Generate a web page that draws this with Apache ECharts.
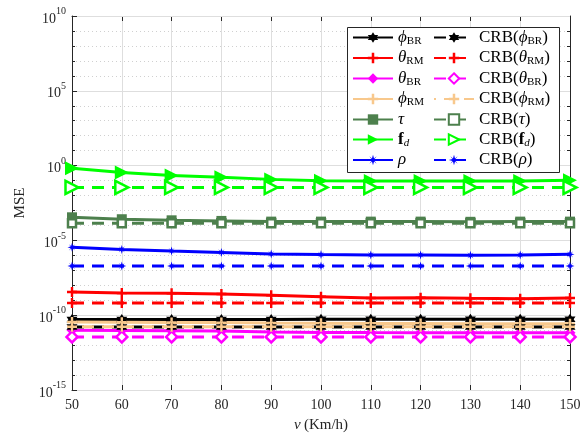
<!DOCTYPE html>
<html>
<head>
<meta charset="utf-8">
<script src="https://cdn.jsdelivr.net/npm/echarts@6/dist/echarts.min.js"></script>
<style>html,body{margin:0;padding:0;background:#fff}#c{width:581px;height:433px}</style>
</head>
<body>
<div id="c"></div>
<script>
// ---- data ----
var speeds = [50, 60, 70, 80, 90, 100, 110, 120, 130, 140, 150];
var phiBR    = [5.1e-11, 5.1e-11, 5.2e-11, 5.2e-11, 5.2e-11, 5.3e-11, 5.3e-11, 5.3e-11, 5.4e-11, 5.4e-11, 5.4e-11];
var thetaRM  = [3.55e-9, 3.0e-9, 2.9e-9, 2.63e-9, 2.14e-9, 1.74e-9, 1.41e-9, 1.48e-9, 1.35e-9, 1.26e-9, 1.41e-9];
var thetaBR  = [9.8e-12, 9.6e-12, 9.3e-12, 8.9e-12, 7.6e-12, 7.1e-12, 6.9e-12, 6.8e-12, 6.8e-12, 6.8e-12, 6.8e-12];
var phiRM    = [3.5e-11, 3.4e-11, 3.3e-11, 3.2e-11, 3.0e-11, 2.9e-11, 2.8e-11, 2.8e-11, 2.7e-11, 2.7e-11, 2.7e-11];
var tau      = [3.5e-4, 2.6e-4, 2.2e-4, 2.0e-4, 1.8e-4, 1.8e-4, 1.8e-4, 1.8e-4, 1.75e-4, 1.8e-4, 1.8e-4];
var fd       = [0.66, 0.34, 0.22, 0.166, 0.12, 0.098, 0.093, 0.093, 0.093, 0.093, 0.105];
var rho      = [3.47e-6, 2.5e-6, 1.95e-6, 1.58e-6, 1.23e-6, 1.12e-6, 1.07e-6, 1.07e-6, 1.0e-6, 1.07e-6, 1.17e-6];
var crbPhiBR   = [1.6e-11, 1.6e-11, 1.6e-11, 1.6e-11, 1.6e-11, 1.6e-11, 1.6e-11, 1.6e-11, 1.6e-11, 1.6e-11, 1.6e-11];
var crbThetaRM = [6.6e-10, 6.6e-10, 6.6e-10, 6.6e-10, 6.6e-10, 6.6e-10, 6.6e-10, 6.6e-10, 6.6e-10, 6.6e-10, 6.6e-10];
var crbThetaBR = [3.5e-12, 3.5e-12, 3.5e-12, 3.5e-12, 3.5e-12, 3.5e-12, 3.5e-12, 3.5e-12, 3.5e-12, 3.5e-12, 3.5e-12];
var crbPhiRM   = [1.7e-11, 1.7e-11, 1.7e-11, 1.7e-11, 1.7e-11, 1.7e-11, 1.7e-11, 1.7e-11, 1.7e-11, 1.7e-11, 1.7e-11];
var crbTau     = [1.38e-4, 1.38e-4, 1.38e-4, 1.38e-4, 1.38e-4, 1.38e-4, 1.38e-4, 1.38e-4, 1.38e-4, 1.38e-4, 1.38e-4];
var crbFd      = [0.035, 0.035, 0.035, 0.035, 0.035, 0.035, 0.035, 0.035, 0.035, 0.035, 0.035];
var crbRho     = [1.95e-7, 1.95e-7, 1.95e-7, 1.95e-7, 1.95e-7, 1.95e-7, 1.95e-7, 1.95e-7, 1.95e-7, 1.95e-7, 1.95e-7];
var xTicks = [50, 60, 70, 80, 90, 100, 110, 120, 130, 140, 150];
var yTickExps = [-15, -10, -5, 0, 5, 10];

// ---- styling ----
var FONT = "'Liberation Serif', 'DejaVu Serif', serif";
var STAR = 'path://M0,-10 L2.89,-5 L8.66,-5 L5.77,0 L8.66,5 L2.89,5 L0,10 L-2.89,5 L-8.66,5 L-5.77,0 L-8.66,-5 L-2.89,-5 Z';
var PLUS = 'path://M-1.2,-5 L1.2,-5 L1.2,-1.2 L5,-1.2 L5,1.2 L1.2,1.2 L1.2,5 L-1.2,5 L-1.2,1.2 L-5,1.2 L-5,-1.2 L-1.2,-1.2 Z';
var AST = 'path://M0,-5 L1,-1.5 L3.5,-3.5 L1.5,-1 L5,0 L1.5,1 L3.5,3.5 L1,1.5 L0,5 L-1,1.5 L-3.5,3.5 L-1.5,1 L-5,0 L-1.5,-1 L-3.5,-3.5 L-1,-1.5 Z';

function pairs(arr) { return speeds.map(function (v, i) { return [v, arr[i]]; }); }

var defs = [
  {name: 'phiBR', data: phiBR, color: '#000000', symbol: STAR, size: 11, dashed: false, open: false, label: '{m|ϕ}{s|BR}'},
  {name: 'thetaRM', data: thetaRM, color: '#ff0000', symbol: PLUS, size: 10, dashed: false, open: false, label: '{m|θ}{s|RM}'},
  {name: 'thetaBR', data: thetaBR, color: '#ff00ff', symbol: 'diamond', size: 11, dashed: false, open: false, label: '{m|θ}{s|BR}'},
  {name: 'phiRM', data: phiRM, color: '#f8c88c', symbol: PLUS, size: 10, dashed: false, open: false, label: '{m|ϕ}{s|RM}'},
  {name: 'tau', data: tau, color: '#4d804d', symbol: 'rect', size: 10, dashed: false, open: false, label: '{m|τ}'},
  {name: 'fd', data: fd, color: '#00ff00', symbol: 'triangle', size: 14, dashed: false, open: false, label: '{b|f}{si|d}'},
  {name: 'rho', data: rho, color: '#0000ff', symbol: AST, size: 9, dashed: false, open: false, label: '{m|ρ}'},
  {name: 'CRB_phiBR', data: crbPhiBR, color: '#000000', symbol: STAR, size: 11, dashed: true, open: false, label: '{r|CRB(}{m|ϕ}{s|BR}{r|)}'},
  {name: 'CRB_thetaRM', data: crbThetaRM, color: '#ff0000', symbol: PLUS, size: 10, dashed: true, open: false, label: '{r|CRB(}{m|θ}{s|RM}{r|)}'},
  {name: 'CRB_thetaBR', data: crbThetaBR, color: '#ff00ff', symbol: 'diamond', size: 11, dashed: true, open: true, label: '{r|CRB(}{m|θ}{s|BR}{r|)}'},
  {name: 'CRB_phiRM', data: crbPhiRM, color: '#f8c88c', symbol: PLUS, size: 10, dashed: true, open: false, offset: 10, label: '{r|CRB(}{m|ϕ}{s|RM}{r|)}'},
  {name: 'CRB_tau', data: crbTau, color: '#4d804d', symbol: 'rect', size: 8, dashed: true, open: true, label: '{r|CRB(}{m|τ}{r|)}'},
  {name: 'CRB_fd', data: crbFd, color: '#00ff00', symbol: 'triangle', size: 13, dashed: true, open: true, label: '{r|CRB(}{b|f}{si|d}{r|)}'},
  {name: 'CRB_rho', data: crbRho, color: '#0000ff', symbol: AST, size: 9, dashed: true, open: false, label: '{r|CRB(}{m|ρ}{r|)}'}
];
var labelMap = {};
defs.forEach(function (d) { labelMap[d.name] = d.label; });

var series = defs.map(function (d) {
  return {
    name: d.name,
    type: 'line',
    data: pairs(d.data),
    symbol: d.symbol,
    symbolSize: d.size,
    symbolRotate: d.symbol === 'triangle' ? -90 : 0,
    showAllSymbol: true,
    animation: false,
    lineStyle: {color: d.color, width: 3, type: d.dashed ? [12, 8] : 'solid', dashOffset: d.offset || 0},
    itemStyle: d.open ? {color: '#ffffff', borderColor: d.color, borderWidth: 2.5, opacity: 1}
                      : {color: d.color, borderColor: d.color, borderWidth: 0, opacity: 1},
    emphasis: {disabled: true},
    z: 2
  };
});

var richLegend = {
  r: {fontFamily: FONT, fontSize: 17, color: '#000'},
  m: {fontFamily: FONT, fontSize: 17, fontStyle: 'italic', color: '#000'},
  b: {fontFamily: FONT, fontSize: 17, fontWeight: 'bold', color: '#000'},
  s: {fontFamily: FONT, fontSize: 11, color: '#000', padding: [7, 0, 0, 0]},
  si: {fontFamily: FONT, fontSize: 11, fontStyle: 'italic', color: '#000', padding: [7, 0, 0, 0]}
};

function legendCfg(names, left) {
  return {
    orient: 'vertical',
    left: left,
    top: 29,
    itemWidth: 40,
    itemHeight: 13,
    itemGap: 3,
    padding: 0,
    selectedMode: false,
    data: names,
    formatter: function (n) { return labelMap[n]; },
    textStyle: {rich: richLegend, height: 16, lineHeight: 16},
    z: 5
  };
}

var BOX = [[347.5, 27.5], [559.5, 27.5], [559.5, 172.5], [347.5, 172.5]];

var chart = echarts.init(document.getElementById('c'), null, {renderer: 'canvas'});
chart.setOption({
  animation: false,
  backgroundColor: '#ffffff',
  grid: {left: 72, right: 11, top: 16, bottom: 43, containLabel: false, outerBoundsMode: 'none'},
  graphic: [{
    type: 'polygon', z: 4,
    shape: {points: BOX},
    style: {fill: '#ffffff', stroke: '#262626', lineWidth: 1}
  }],
  legend: [
    legendCfg(defs.slice(0, 7).map(function (d) { return d.name; }), 352),
    legendCfg(defs.slice(7).map(function (d) { return d.name; }), 433)
  ],
  xAxis: [{
    type: 'value', min: 50, max: 150, interval: 10,
    name: '{i|v} {r|(Km/h)}', nameLocation: 'middle', nameGap: 28,
    nameTextStyle: {rich: {i: {fontFamily: FONT, fontSize: 15, fontStyle: 'italic', color: '#262626'}, r: {fontFamily: FONT, fontSize: 15, color: '#262626'}}},
    axisLine: {show: true, lineStyle: {color: '#262626', width: 1}},
    axisTick: {show: true, inside: true, length: 5, lineStyle: {color: '#262626'}},
    axisLabel: {fontFamily: FONT, fontSize: 14, color: '#262626', margin: 8},
    splitLine: {show: true, lineStyle: {color: '#dedede', width: 1}}
  }, {
    type: 'value', min: 50, max: 150, interval: 10, position: 'top',
    axisLine: {show: true, lineStyle: {color: '#262626', width: 1}},
    axisTick: {show: true, inside: true, length: 5, lineStyle: {color: '#262626'}},
    axisLabel: {show: false}, splitLine: {show: false}
  }],
  yAxis: [{
    type: 'log', logBase: 10, min: 1e-15, max: 1e10, interval: 5,
    name: 'MSE', nameLocation: 'middle', nameGap: 43,
    nameTextStyle: {fontFamily: FONT, fontSize: 15, color: '#262626'},
    axisLine: {show: true, lineStyle: {color: '#262626', width: 1}},
    axisTick: {show: true, inside: true, length: 5, lineStyle: {color: '#262626'}},
    axisLabel: {
      margin: 6,
      formatter: function (v) { var e = Math.round(Math.log10(v)); return '{b|10}{e|' + e + '}'; },
      rich: {
        b: {fontFamily: FONT, fontSize: 14, color: '#262626', padding: [6, 0, 0, 0]},
        e: {fontFamily: FONT, fontSize: 10, color: '#262626', padding: [0, 0, 9, 0]}
      }
    },
    splitLine: {show: true, lineStyle: {color: '#dedede', width: 1}},
    z: 1
  }, {
    type: 'log', logBase: 10, min: 1e-15, max: 1e10, interval: 1, splitNumber: 25, position: 'left',
    axisLine: {show: false},
    axisTick: {show: true, inside: true, length: 3, lineStyle: {color: '#262626'}},
    axisLabel: {show: false},
    splitLine: {show: true, lineStyle: {color: '#d0d0d0', width: 1, type: [1, 3]}},
    z: 0
  }, {
    type: 'log', logBase: 10, min: 1e-15, max: 1e10, interval: 1, splitNumber: 25, position: 'right',
    axisLine: {show: true, lineStyle: {color: '#262626', width: 1}},
    axisTick: {show: true, inside: true, length: 3, lineStyle: {color: '#262626'}},
    axisLabel: {show: false},
    splitLine: {show: false}
  }],
  series: series
});
</script>
</body>
</html>
